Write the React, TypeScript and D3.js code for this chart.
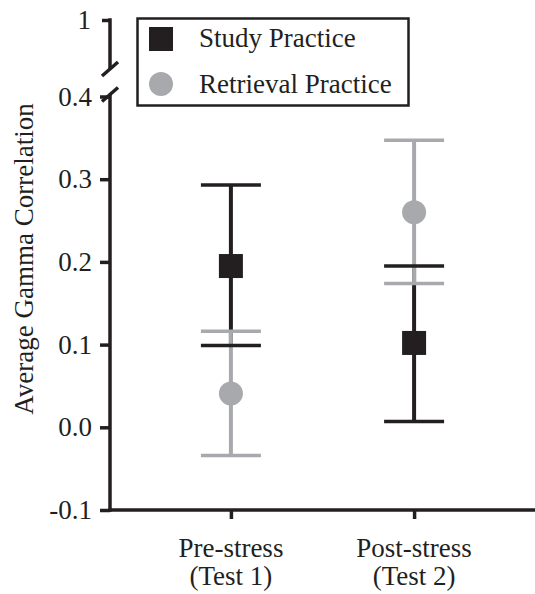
import React, { useEffect, useRef } from 'react';
import * as d3 from 'd3';

// categories (two text lines each)
const categoryTop = ['Pre-stress', 'Post-stress'];
const categoryBottom = ['(Test 1)', '(Test 2)'];

// Study Practice: mean and error bar ends
const studyMean = [0.195, 0.102];
const studyLow = [0.099, 0.007];
const studyHigh = [0.293, 0.195];

// Retrieval Practice
const retrievalMean = [0.041, 0.26];
const retrievalLow = [-0.034, 0.174];
const retrievalHigh = [0.116, 0.347];

const yTicks = [-0.1, 0.0, 0.1, 0.2, 0.3, 0.4];
const yTopTicks = [1];

const BLACK = '#231f20';
const GREY = '#a7a9ac';
const FONT = '"Liberation Serif", "Times New Roman", serif';

export default function App() {
  const ref = useRef<SVGSVGElement>(null);

  useEffect(() => {
    const svg = d3.select(ref.current);
    svg.selectAll('*').remove();

    const W = 535, H = 594;
    const axisX = 110;

    // main scale below the break, and a small one above it for the "1"
    const y = d3.scaleLinear().domain([-0.1, 0.4]).range([510, 96.5]);
    const yTop = d3.scaleLinear().domain([0.9, 1]).range([69, 20]);
    const x = d3.scalePoint().domain(categoryTop).range([axisX, W]).padding(0.66);

    const fmt = (d: number) => d3.format('.1f')(d).replace('−', '-');

    // y axis ticks
    const gy = svg.append('g').attr('transform', `translate(${axisX},0)`)
      .call(d3.axisLeft(y).tickValues(yTicks).tickSize(10).tickPadding(8).tickFormat(fmt as any));
    const gyTop = svg.append('g').attr('transform', `translate(${axisX},0)`)
      .call(d3.axisLeft(yTop).tickValues(yTopTicks).tickSize(8).tickPadding(11).tickFormat(d3.format('d') as any));
    [gy, gyTop].forEach(g => {
      g.select('.domain').remove();
      g.selectAll('line').attr('stroke', BLACK).attr('stroke-width', 3.5);
      g.selectAll('text').attr('fill', BLACK).style('font-family', FONT).style('font-size', '27px');
    });

    // axis lines with break marks
    svg.append('line').attr('x1', axisX).attr('x2', axisX)
      .attr('y1', yTop(1) - 1.75).attr('y2', yTop(0.9))
      .attr('stroke', BLACK).attr('stroke-width', 3.5);
    svg.append('line').attr('x1', axisX).attr('x2', axisX)
      .attr('y1', y(0.4) - 2).attr('y2', y(-0.1) + 1.75)
      .attr('stroke', BLACK).attr('stroke-width', 3.5);
    [yTop(0.9), y(0.4) - 2].forEach(cy => {
      svg.append('line')
        .attr('x1', axisX - 8).attr('y1', cy + 7)
        .attr('x2', axisX + 8).attr('y2', cy - 7)
        .attr('stroke', BLACK).attr('stroke-width', 3.5);
    });

    // x axis
    const gx = svg.append('g').attr('transform', `translate(0,${y(-0.1)})`)
      .call(d3.axisBottom(x).tickSize(9).tickSizeOuter(0).tickFormat(() => ''));
    gx.select('.domain').attr('stroke', BLACK).attr('stroke-width', 3.5)
      .attr('d', `M${axisX - 1.75},0H${W}`);
    gx.selectAll('line').attr('stroke', BLACK).attr('stroke-width', 3.5);

    categoryTop.forEach((c, i) => {
      const t = svg.append('text').attr('x', x(c)!).attr('y', 557)
        .attr('text-anchor', 'middle').attr('fill', BLACK)
        .style('font-family', FONT).style('font-size', '27px');
      t.append('tspan').attr('x', x(c)!).text(c);
      t.append('tspan').attr('x', x(c)!).attr('dy', 28).text(categoryBottom[i]);
    });

    // y title
    svg.append('text')
      .attr('transform', `translate(33,259) rotate(-90)`)
      .attr('text-anchor', 'middle').attr('fill', BLACK)
      .style('font-family', FONT).style('font-size', '27px')
      .text('Average Gamma Correlation');

    const series = [
      { mean: studyMean, low: studyLow, high: studyHigh, color: BLACK, shape: 'square' },
      { mean: retrievalMean, low: retrievalLow, high: retrievalHigh, color: GREY, shape: 'circle' },
    ];
    const capHalf = 30;

    // error bar stems first, then caps, then markers
    series.forEach(s => {
      categoryTop.forEach((c, i) => {
        svg.append('line').attr('x1', x(c)!).attr('x2', x(c)!)
          .attr('y1', y(s.low[i])).attr('y2', y(s.high[i]))
          .attr('stroke', s.color).attr('stroke-width', 4);
      });
    });
    series.forEach(s => {
      categoryTop.forEach((c, i) => {
        [s.low[i], s.high[i]].forEach(v => {
          svg.append('line').attr('x1', x(c)! - capHalf).attr('x2', x(c)! + capHalf)
            .attr('y1', y(v)).attr('y2', y(v))
            .attr('stroke', s.color).attr('stroke-width', 3.5);
        });
      });
    });
    series.forEach(s => {
      categoryTop.forEach((c, i) => {
        if (s.shape === 'square') {
          svg.append('rect').attr('x', x(c)! - 12).attr('y', y(s.mean[i]) - 12)
            .attr('width', 24).attr('height', 24).attr('fill', s.color);
        } else {
          svg.append('circle').attr('cx', x(c)!).attr('cy', y(s.mean[i]))
            .attr('r', 12).attr('fill', s.color);
        }
      });
    });

    // legend
    const lg = svg.append('g');
    lg.append('rect').attr('x', 137.5).attr('y', 18.5).attr('width', 271).attr('height', 87)
      .attr('fill', 'white').attr('stroke', BLACK).attr('stroke-width', 2.5);
    lg.append('rect').attr('x', 149).attr('y', 27).attr('width', 24).attr('height', 24).attr('fill', BLACK);
    lg.append('circle').attr('cx', 161).attr('cy', 84).attr('r', 12).attr('fill', GREY);
    lg.append('text').attr('x', 199).attr('y', 47).attr('fill', BLACK)
      .style('font-family', FONT).style('font-size', '27px').text('Study Practice');
    lg.append('text').attr('x', 199).attr('y', 93).attr('fill', BLACK)
      .style('font-family', FONT).style('font-size', '27px').text('Retrieval Practice');
  }, []);

  return (
    <svg ref={ref} width={535} height={594}
      style={{ position: 'absolute', left: 0, top: 0, background: 'white' }} />
  );
}
